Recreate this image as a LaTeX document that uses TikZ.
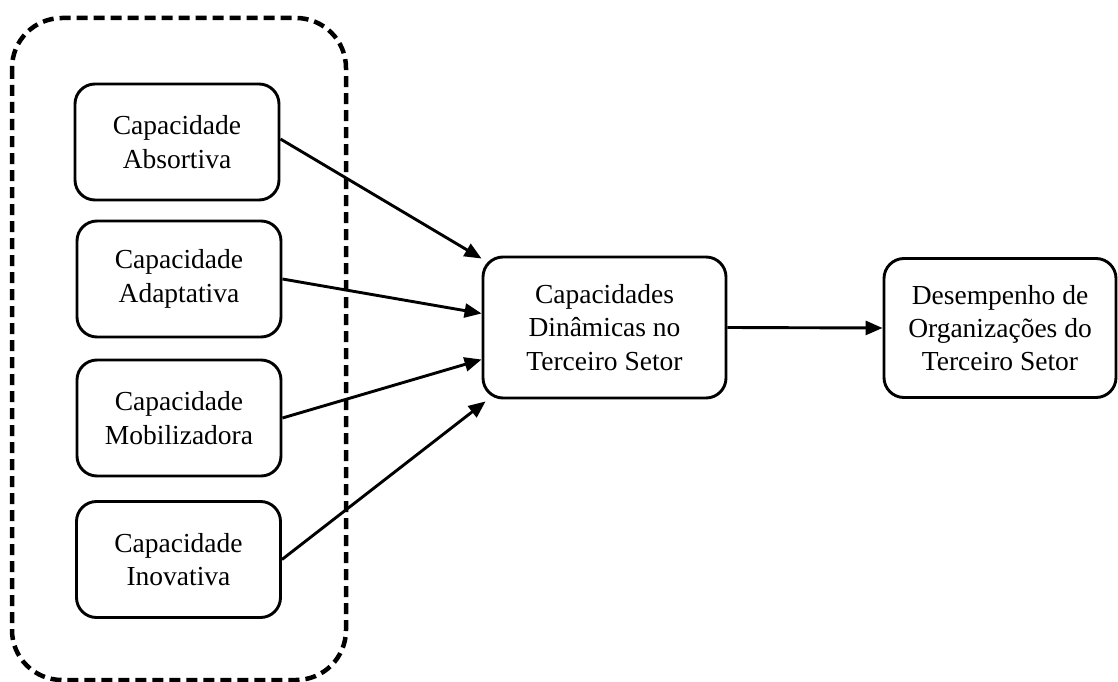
\documentclass[tikz,border=0pt]{standalone}
\usepackage{fontspec}
\setmainfont{Liberation Serif}
\usetikzlibrary{arrows.meta}

\tikzset{
  capbox/.style={draw, line width=2.9pt, rounded corners=20pt, inner sep=0pt,
    align=center, font=\fontsize{27.5}{33.3}\selectfont},
  link/.style={line width=2.9pt, -{Triangle[length=17pt,width=14pt]}},
  group/.style={draw, line width=4.5pt, rounded corners=50pt, dash pattern=on 11pt off 6pt}
}

\begin{document}
\begin{tikzpicture}[x=1pt,y=-1pt]
  \useasboundingbox (0,0) rectangle (1118,682);

  % dashed frame around the four capacities
  \draw[group] (12,18) rectangle (346,680);

  % the four capacities
  \node[capbox, minimum width=204pt, minimum height=116pt] (abs) at (177,142) {Capacidade\\Absortiva};
  \node[capbox, minimum width=204pt, minimum height=116pt] (ada) at (179,279) {Capacidade\\Adaptativa};
  \node[capbox, minimum width=204pt, minimum height=116pt] (mob) at (179,418) {Capacidade\\Mobilizadora};
  \node[capbox, minimum width=204pt, minimum height=116pt] (ino) at (178.5,559.5) {Capacidade\\Inovativa};

  % dynamic capabilities and performance
  \node[capbox, minimum width=243pt, minimum height=141pt] (din) at (604.5,327.5) {Capacidades\\Dinâmicas no\\Terceiro Setor};
  \node[capbox, minimum width=232pt, minimum height=139pt] (des) at (1000,328) {Desempenho de\\Organizações do\\Terceiro Setor};

  % connectors
  \draw[link] ([yshift=3pt]abs.east) -- ([yshift=-3pt]din.north west);
  \draw[link] (ada.east) -- ([yshift=14pt]din.west);
  \draw[link] (mob.east) -- ([yshift=-32pt]din.west);
  \draw[link] (ino.east) -- ([xshift=4pt,yshift=-2pt]din.south west);
  \draw[link] (din.east) -- (des.west);
\end{tikzpicture}
\end{document}
